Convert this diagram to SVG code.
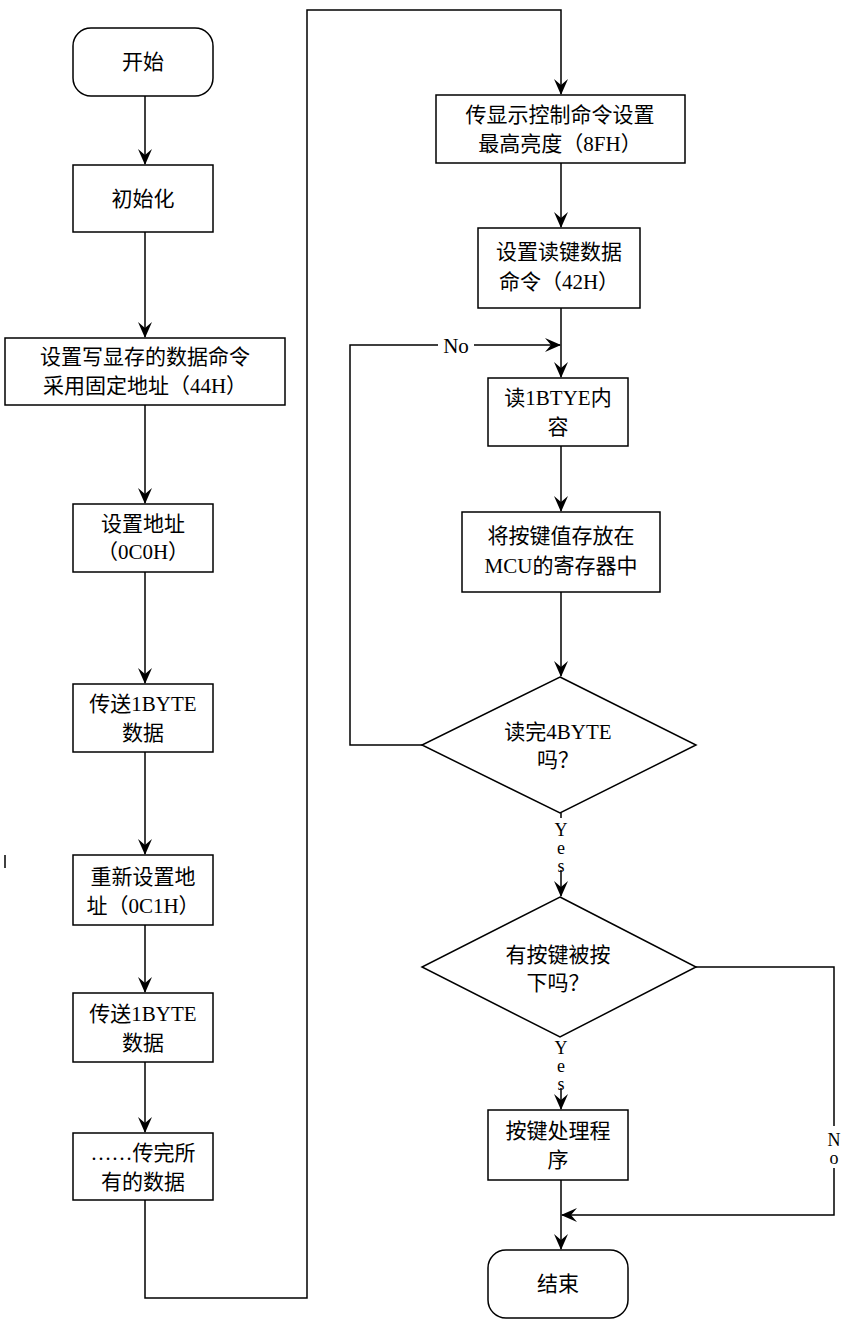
<svg xmlns="http://www.w3.org/2000/svg" width="865" height="1333" viewBox="0 0 865 1333">
<defs>
<style>
.n{fill:#fff;stroke:#000;stroke-width:1.5}
.t{font-family:"Liberation Serif","Noto Sans CJK SC",serif;font-size:21px;fill:#000;text-anchor:middle}
.s{font-family:"Liberation Serif",serif;font-size:18px;fill:#000;text-anchor:start;writing-mode:vertical-rl;text-orientation:upright;letter-spacing:-2px}
.c{fill:none;stroke:#000;stroke-width:1.5}
</style>
<marker id="a" viewBox="0 0 16 16" refX="15" refY="8" markerWidth="16" markerHeight="16" markerUnits="userSpaceOnUse" orient="auto"><path d="M0,1 L16,8 L0,15 L6,8 Z" fill="#000"/></marker>
</defs>
<rect width="865" height="1333" fill="#fff"/>
<g id="connectors">
<path class="c" d="M145,96 V164" marker-end="url(#a)"/>
<path class="c" d="M145,232 V337" marker-end="url(#a)"/>
<path class="c" d="M145,405 V503" marker-end="url(#a)"/>
<path class="c" d="M145,572 V683" marker-end="url(#a)"/>
<path class="c" d="M145,752 V854" marker-end="url(#a)"/>
<path class="c" d="M145,925 V992" marker-end="url(#a)"/>
<path class="c" d="M145,1062 V1132" marker-end="url(#a)"/>
<path class="c" d="M145,1200 V1298 H307 V10 H561 V94" marker-end="url(#a)"/>
<path class="c" d="M561,163 V227" marker-end="url(#a)"/>
<path class="c" d="M561,308 V377" marker-end="url(#a)"/>
<path class="c" d="M561,446 V511" marker-end="url(#a)"/>
<path class="c" d="M561,592 V676" marker-end="url(#a)"/>
<path class="c" d="M422,745 H350 V345 H560" marker-end="url(#a)"/>
<path class="c" d="M561,813 V896" marker-end="url(#a)"/>
<path class="c" d="M561,1037 V1109" marker-end="url(#a)"/>
<path class="c" d="M561,1180 V1249" marker-end="url(#a)"/>
<path class="c" d="M696,967 H834 V1215 H562" marker-end="url(#a)"/>
<path class="c" d="M5,855 V868"/>
<rect x="438" y="335" width="36" height="22" fill="#fff"/>
<text class="t" x="456" y="353">No</text>
<rect x="550" y="818" width="22" height="52" fill="#fff"/>
<text class="s" x="561" y="820">Yes</text>
<rect x="550" y="1036" width="22" height="52" fill="#fff"/>
<text class="s" x="561" y="1038">Yes</text>
<rect x="824" y="1126" width="22" height="42" fill="#fff"/>
<text class="s" x="834" y="1130">No</text>
</g>
<g id="start"><rect class="n" x="73" y="28" width="140" height="68" rx="18"/><text class="t" x="143" y="69">开始</text></g>
<g id="init"><rect class="n" x="73" y="165" width="140" height="67"/><text class="t" x="143" y="206">初始化</text></g>
<g id="n3"><rect class="n" x="5" y="338" width="280" height="67"/><text class="t" x="145" y="364">设置写显存的数据命令</text><text class="t" x="145" y="393">采用固定地址（44H）</text></g>
<g id="n4"><rect class="n" x="73" y="504" width="140" height="68"/><text class="t" x="143" y="531">设置地址</text><text class="t" x="143" y="559">（0C0H）</text></g>
<g id="n5"><rect class="n" x="73" y="684" width="140" height="68"/><text class="t" x="143" y="711">传送1BYTE</text><text class="t" x="143" y="740">数据</text></g>
<g id="n6"><rect class="n" x="73" y="855" width="140" height="70"/><text class="t" x="143" y="884">重新设置地</text><text class="t" x="143" y="913">址（0C1H）</text></g>
<g id="n7"><rect class="n" x="73" y="993" width="140" height="69"/><text class="t" x="143" y="1021">传送1BYTE</text><text class="t" x="143" y="1050">数据</text></g>
<g id="n8"><rect class="n" x="73" y="1133" width="140" height="67"/><text class="t" x="143" y="1160">……传完所</text><text class="t" x="143" y="1189">有的数据</text></g>
<g id="n9"><rect class="n" x="436" y="95" width="249" height="68"/><text class="t" x="560" y="122">传显示控制命令设置</text><text class="t" x="560" y="151">最高亮度（8FH）</text></g>
<g id="n10"><rect class="n" x="478" y="228" width="162" height="80"/><text class="t" x="559" y="259">设置读键数据</text><text class="t" x="559" y="289">命令（42H）</text></g>
<g id="n11"><rect class="n" x="488" y="378" width="140" height="68"/><text class="t" x="558" y="405">读1BTYE内</text><text class="t" x="558" y="434">容</text></g>
<g id="n12"><rect class="n" x="462" y="512" width="198" height="80"/><text class="t" x="561" y="543">将按键值存放在</text><text class="t" x="561" y="573">MCU的寄存器中</text></g>
<g id="d1"><polygon class="n" points="560,677 696,745 560,813 422,745"/><text class="t" x="558" y="739">读完4BYTE</text><text class="t" x="558" y="767">吗？</text></g>
<g id="d2"><polygon class="n" points="560,897 696,967 560,1037 422,967"/><text class="t" x="558" y="962">有按键被按</text><text class="t" x="558" y="990">下吗？</text></g>
<g id="n13"><rect class="n" x="488" y="1110" width="140" height="70"/><text class="t" x="558" y="1138">按键处理程</text><text class="t" x="558" y="1167">序</text></g>
<g id="end"><rect class="n" x="488" y="1250" width="140" height="68" rx="18"/><text class="t" x="558" y="1291">结束</text></g>
</svg>
